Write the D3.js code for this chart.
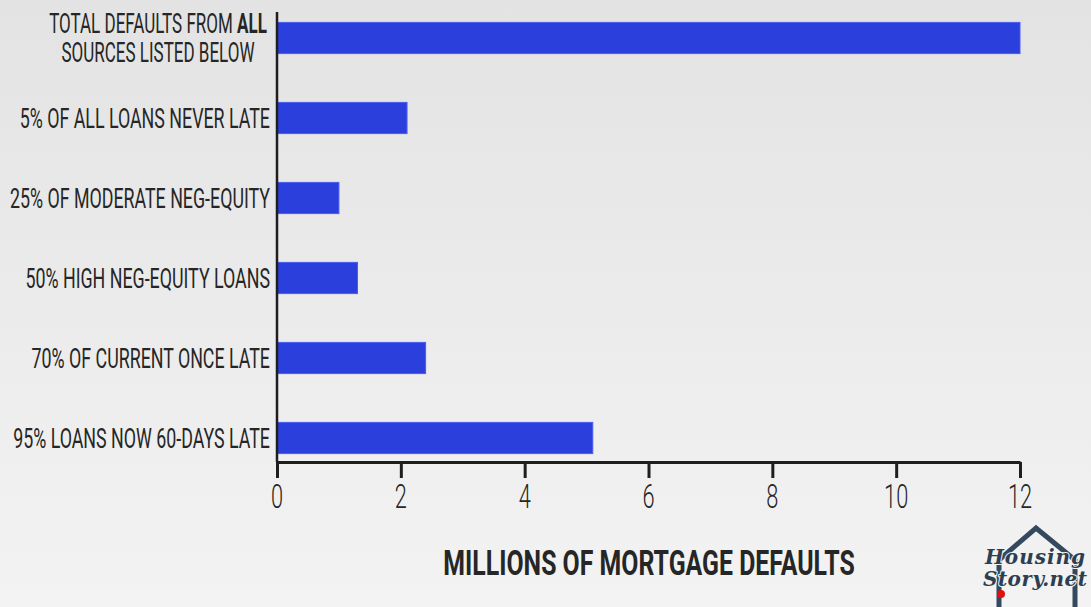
<!DOCTYPE html>
<html>
<head>
<meta charset="utf-8">
<script src="https://cdn.jsdelivr.net/npm/d3@7"></script>
<style>
  html, body { margin: 0; padding: 0; }
  body { width: 1091px; height: 607px; overflow: hidden; }
  svg { display: block; }
  .lbl { font-family: Roboto, "Noto Sans", sans-serif; fill: #262626; }
</style>
</head>
<body>
<svg id="chart" width="1091" height="607"></svg>
<script>
// Mortgage default sources, in millions of loans
const categories = [
  "TOTAL DEFAULTS FROM ALL SOURCES LISTED BELOW",
  "5% OF ALL LOANS NEVER LATE",
  "25% OF MODERATE NEG-EQUITY",
  "50% HIGH NEG-EQUITY LOANS",
  "70% OF CURRENT ONCE LATE",
  "95% LOANS NOW 60-DAYS LATE"
];
const defaults = [12.0, 2.1, 1.0, 1.3, 2.4, 5.1];
const tickValues = [0, 2, 4, 6, 8, 10, 12];
const axisTitle = "MILLIONS OF MORTGAGE DEFAULTS";

const W = 1091, H = 607;
const svg = d3.select("#chart");

// soft grey backdrop, lighter toward the bottom
const defs = svg.append("defs");
const bg = defs.append("linearGradient").attr("id", "bg")
  .attr("x1", 0).attr("y1", 0).attr("x2", 0).attr("y2", 1);
bg.append("stop").attr("offset", "0%").attr("stop-color", "#e3e3e3");
bg.append("stop").attr("offset", "100%").attr("stop-color", "#f3f3f3");
svg.append("rect").attr("width", W).attr("height", H).attr("fill", "url(#bg)");

const x0 = 277, x1 = 1020, axisY = 462;
const x = d3.scaleLinear().domain([0, 12]).range([x0, x1]);
const y = d3.scaleBand().domain(categories).range([-2, 478])
  .paddingInner(0.61).paddingOuter(0.305);

// condensed text placed at (px, py), squeezed horizontally by k
function narrowText(parent, px, py, anchor, size, k) {
  return parent.append("g")
    .attr("transform", `translate(${px},${py}) scale(${k},1)`)
    .append("text")
    .attr("class", "lbl")
    .attr("text-anchor", anchor)
    .attr("font-size", size)
    .attr("dy", "0.36em");
}

// bars
svg.append("g").selectAll("rect").data(categories).join("rect")
  .attr("x", x(0))
  .attr("y", d => y(d))
  .attr("width", (d, i) => x(defaults[i]) - x(0))
  .attr("height", y.bandwidth())
  .attr("fill", "#2b3fdc")
  .attr("stroke", "#4a5cf0")
  .attr("stroke-width", 1);

// x axis
const xAxis = d3.axisBottom(x).tickValues(tickValues).tickSize(16).tickSizeOuter(0).tickFormat("");
const gx = svg.append("g").attr("transform", `translate(0,${axisY})`).call(xAxis);
gx.select(".domain").attr("stroke", "#1e1e1e").attr("stroke-width", 3);
gx.selectAll(".tick line").attr("stroke", "#1e1e1e").attr("stroke-width", 3);
const tickLayer = svg.append("g");
tickValues.forEach(v => {
  narrowText(tickLayer, x(v), 496, "middle", 33, 0.66).attr("font-weight", 300).text(v);
});

// y axis line
svg.append("line")
  .attr("x1", x0).attr("x2", x0)
  .attr("y1", 12).attr("y2", axisY)
  .attr("stroke", "#1e1e1e").attr("stroke-width", 2.5);

// category labels
const labels = svg.append("g");
categories.forEach((c, i) => {
  const cy = y(c) + y.bandwidth() / 2;
  if (i === 0) {
    const t = narrowText(labels, 158, cy - 14.5, "middle", 27, 0.63).attr("dy", null);
    const l1 = t.append("tspan").attr("x", 0).attr("dy", "0.36em");
    l1.append("tspan").text("TOTAL DEFAULTS FROM ");
    l1.append("tspan").attr("font-weight", "bold").text("ALL");
    t.append("tspan").attr("x", 0).attr("dy", 28.5).text("SOURCES LISTED BELOW");
  } else {
    narrowText(labels, 270, cy, "end", 27, 0.66).text(c);
  }
});

// axis title
narrowText(svg, 649, 562, "middle", 35, 0.71)
  .attr("font-weight", "bold")
  .attr("fill", "#1e1e1e")
  .text(axisTitle);

// site mark: house outline with name
const logo = svg.append("g");
logo.append("path")
  .attr("d", "M999,607 L999,560 L1036,528 L1075,560 L1075,607")
  .attr("fill", "none").attr("stroke", "#34495e").attr("stroke-width", 5)
  .attr("stroke-linejoin", "miter");
const lt = logo.append("g").attr("font-family", "DejaVu Serif, serif").attr("font-style", "italic")
  .attr("font-weight", "bold").attr("fill", "#2c3e50").attr("stroke", "#f2f2f2").attr("stroke-width", 2)
  .attr("paint-order", "stroke").attr("font-size", 20).attr("text-anchor", "middle");
lt.append("text").attr("x", 1035).attr("y", 564).attr("textLength", 100).text("Housing");
lt.append("text").attr("x", 1035).attr("y", 586).attr("textLength", 104).text("Story.net");
logo.append("circle").attr("cx", 1001).attr("cy", 594).attr("r", 4).attr("fill", "#e01010");
</script>
</body>
</html>
